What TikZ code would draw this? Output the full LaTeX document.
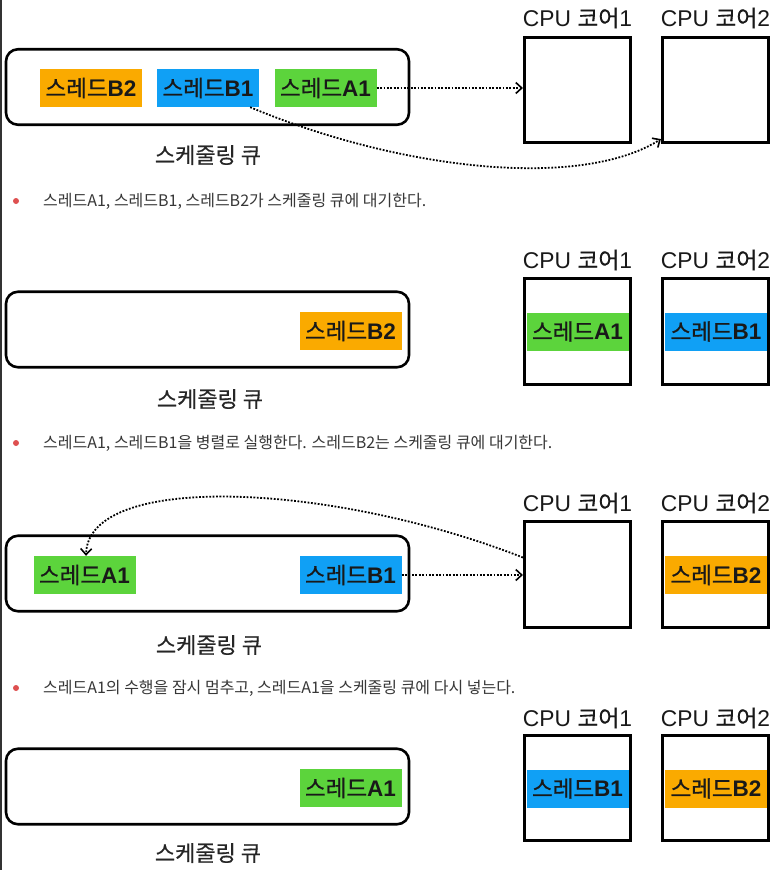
\documentclass[tikz,border=0pt]{standalone}
\usepackage{fontspec}
\setmainfont{Liberation Sans}
\newfontfamily\kr{Noto Sans CJK KR}
\newfontfamily\krm[FakeBold=0.9]{Noto Sans CJK KR}
\newfontfamily\krs[FakeBold=0.5]{Noto Sans CJK KR}
\usetikzlibrary{arrows.meta}
\definecolor{throrange}{RGB}{250,170,0}
\definecolor{thrblue}{RGB}{16,160,245}
\definecolor{thrgreen}{RGB}{92,212,60}
\definecolor{bulletred}{RGB}{222,80,80}
\definecolor{txtgray}{RGB}{55,55,55}
\newcommand{\thrname}[1]{{\krm 스레드}\textbf{#1}}
\newcommand{\cpulabel}[1]{CPU {\krs 코어}#1}
\tikzset{
  queuebox/.style={draw, line width=2.6pt, rounded corners=12pt, minimum width=403pt, minimum height=75.5pt, inner sep=0pt},
  corebox/.style={draw, line width=2.6pt, minimum width=106.5pt, minimum height=105.5pt, inner sep=0pt},
  thrbox/.style={minimum width=102pt, minimum height=38pt, inner sep=0pt, font=\fontsize{22.5}{26}\selectfont, text=black!90},
  orangebox/.style={thrbox, fill=throrange},
  bluebox/.style={thrbox, fill=thrblue},
  greenbox/.style={thrbox, fill=thrgreen},
  cpulbl/.style={font=\fontsize{22.8}{26}\selectfont, text=black!90, inner sep=0pt},
  qlbl/.style={font=\krs\fontsize{22}{26}\selectfont, text=black!85, inner sep=0pt},
  bullettext/.style={anchor=west, font=\fontsize{16}{19}\selectfont, text=txtgray, inner sep=0pt},
  bulletdot/.style={circle, fill=bulletred, minimum size=6pt, inner sep=0pt},
  flow/.style={line width=1.8pt, dash pattern=on 1.8pt off 1.6pt, -{Straight Barb[length=6pt,width=11pt,line width=1.6pt]}}
}
\begin{document}
\begin{tikzpicture}[x=1pt, y=-1pt]
\useasboundingbox (0,0) rectangle (779,870);
\fill[white] (0,0) rectangle (779,870);
\fill[black!80] (0,0) rectangle (1.5,870);

% ---------- Panel 1 ----------
\node[queuebox] (q1) at (207.5,87) {};
\node[orangebox] (p1b2) at (91,88) {\thrname{B2}};
\node[bluebox] (p1b1) at (208,88) {\thrname{B1}};
\node[greenbox] (p1a1) at (325.5,88) {\thrname{A1}};
\node[qlbl] (p1ql) at (208,155) {스케줄링 큐};
\node[corebox] (p1c1) at (577.5,90) {};
\node[corebox] (p1c2) at (715.5,90) {};
\node[cpulbl] (p1l1) at (577.5,18) {\cpulabel{1}};
\node[cpulbl] (p1l2) at (715.5,18) {\cpulabel{2}};
\node[bulletdot] (p1d) at (16,201) {};
\node[bullettext] (p1t) at (43,201) {\kr 스레드A1, 스레드B1, 스레드B2가 스케줄링 큐에 대기한다.};
\draw[flow] (p1a1.east) -- (p1a1.east -| p1c1.west);
\draw[flow] ([xshift=-9pt]p1b1.south east) .. controls (400,170) and (580,190) .. ([yshift=5pt]p1c2.south west);

% ---------- Panel 2 ----------
\node[queuebox] (q2) at (207.5,329.5) {};
\node[orangebox] (p2b2) at (350.5,331) {\thrname{B2}};
\node[qlbl] (p2ql) at (210,399) {스케줄링 큐};
\node[corebox] (p2c1) at (577.5,331.5) {};
\node[corebox] (p2c2) at (715.5,331.5) {};
\node[greenbox] (p2a1) at (577.5,331.5) {\thrname{A1}};
\node[bluebox] (p2b1) at (716,331.5) {\thrname{B1}};
\node[cpulbl] (p2l1) at (577.5,260) {\cpulabel{1}};
\node[cpulbl] (p2l2) at (715.5,260) {\cpulabel{2}};
\node[bulletdot] (p2d) at (16,443) {};
\node[bullettext] (p2t) at (43,443) {\kr 스레드A1, 스레드B1을 병렬로 실행한다. 스레드B2는 스케줄링 큐에 대기한다.};

% ---------- Panel 3 ----------
\node[queuebox] (q3) at (207.5,573.5) {};
\node[greenbox] (p3a1) at (84.5,575) {\thrname{A1}};
\node[bluebox] (p3b1) at (350.5,575) {\thrname{B1}};
\node[qlbl] (p3ql) at (209,645) {스케줄링 큐};
\node[corebox] (p3c1) at (577.5,574.5) {};
\node[corebox] (p3c2) at (715.5,574.5) {};
\node[orangebox] (p3b2) at (716,575) {\thrname{B2}};
\node[cpulbl] (p3l1) at (577.5,503) {\cpulabel{1}};
\node[cpulbl] (p3l2) at (715.5,503) {\cpulabel{2}};
\node[bulletdot] (p3d) at (16,688) {};
\node[bullettext] (p3t) at (43,688) {\kr 스레드A1의 수행을 잠시 멈추고, 스레드A1을 스케줄링 큐에 다시 넣는다.};
\draw[flow] (p3b1.east) -- (p3b1.east -| p3c1.west);
\draw[flow] ([yshift=17pt]p3c1.west) .. controls (330,482) and (88,472) .. ([xshift=1.5pt]p3a1.north);

% ---------- Panel 4 ----------
\node[queuebox] (q4) at (207.5,786.5) {};
\node[greenbox] (p4a1) at (350.5,788) {\thrname{A1}};
\node[qlbl] (p4ql) at (208,853) {스케줄링 큐};
\node[corebox] (p4c1) at (577.5,788) {};
\node[corebox] (p4c2) at (715.5,788) {};
\node[bluebox] (p4b1) at (577.5,788.5) {\thrname{B1}};
\node[orangebox] (p4b2) at (716,788.5) {\thrname{B2}};
\node[cpulbl] (p4l1) at (577.5,718) {\cpulabel{1}};
\node[cpulbl] (p4l2) at (715.5,718) {\cpulabel{2}};
\end{tikzpicture}
\end{document}
